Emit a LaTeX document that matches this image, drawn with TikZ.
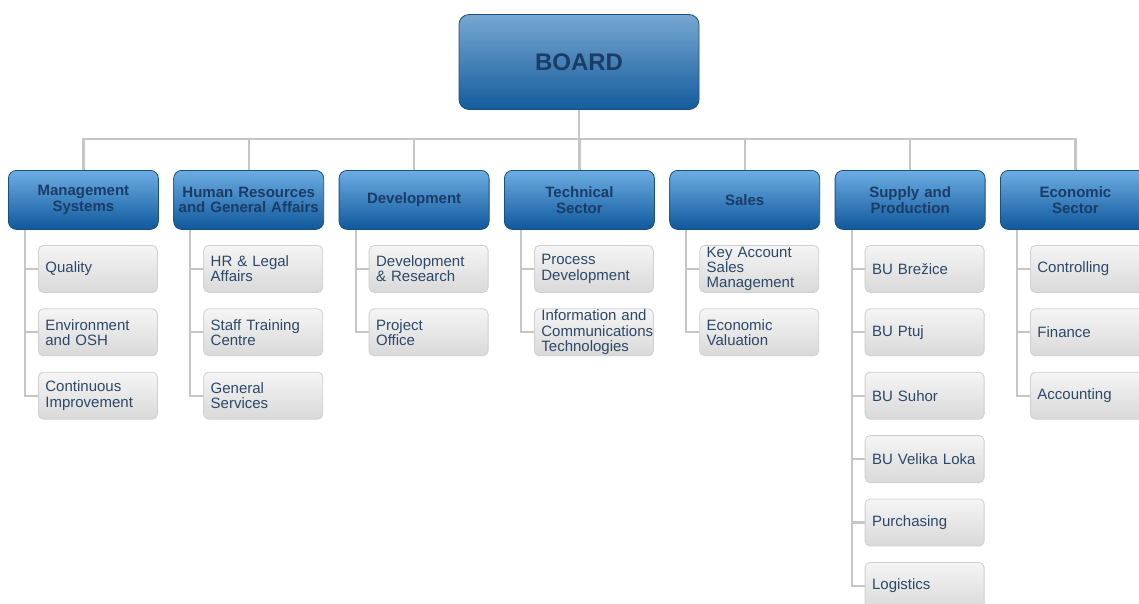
\documentclass[tikz,border=0pt]{standalone}
\usepackage{fontspec}
\setmainfont{Liberation Sans}
\usetikzlibrary{backgrounds}
\definecolor{boardtop}{HTML}{78A7D1}
\definecolor{boardmid}{HTML}{3F80BD}
\definecolor{boardbot}{HTML}{135C9C}
\definecolor{depttop}{HTML}{6CADE3}
\definecolor{deptmid}{HTML}{3483CB}
\definecolor{deptbot}{HTML}{10589C}
\definecolor{boxedge}{HTML}{1B4F80}
\definecolor{unittop}{HTML}{F5F5F5}
\definecolor{unitbot}{HTML}{D9D9D9}
\definecolor{unitedge}{HTML}{CFCFCF}
\definecolor{headtext}{HTML}{1A3C66}
\definecolor{unittext}{HTML}{2C4868}
\definecolor{linkgray}{HTML}{C6C6C6}
\begin{document}
\begin{tikzpicture}[x=1pt,y=-1pt,
  boardbox/.style={draw=boxedge, line width=0.8pt, rounded corners=10pt,
    top color=boardtop, middle color=boardmid, bottom color=boardbot,
    minimum width=240pt, minimum height=95pt, inner sep=0pt,
    text=headtext, font=\fontsize{24}{28}\selectfont\bfseries},
  deptbox/.style={draw=boxedge, line width=0.8pt, rounded corners=8pt,
    top color=depttop, middle color=deptmid, bottom color=deptbot,
    text width=146pt, inner xsep=2pt, inner ysep=0pt, minimum height=59pt,
    align=center, anchor=north west, text=headtext,
    font=\fontsize{15}{15.5}\selectfont\bfseries},
  unitbox/.style={draw=unitedge, line width=0.8pt, rounded corners=5pt,
    top color=unittop, bottom color=unitbot,
    text width=105pt, inner xsep=7pt, inner ysep=0pt, minimum height=47pt,
    align=left, anchor=north west, text=unittext,
    font=\fontsize{15}{15.3}\selectfont},
  link/.style={draw=linkgray, line width=2.2pt}]
\useasboundingbox (0,0) rectangle (1139,603);

% top level
\node[boardbox] (board) at (579,62) {BOARD\hspace{14pt}};
\coordinate (bus) at (579,139);

% sectors
\node[deptbox] (ms) at (8,170)     {Management\\Systems};
\node[deptbox] (hr) at (173.3,170) {Human Resources\\and General Affairs};
\node[deptbox] (dv) at (338.7,170) {Development};
\node[deptbox] (ts) at (504,170)   {Technical\\Sector};
\node[deptbox] (sa) at (669.3,170) {Sales};
\node[deptbox] (sp) at (834.7,170) {Supply and\\Production};
\node[deptbox] (ec) at (1000,170)  {Economic\\Sector};

% Management Systems
\node[unitbox] (ms1) at (38,245)   {Quality};
\node[unitbox] (ms2) at (38,308.4) {Environment\\and OSH};
\node[unitbox] (ms3) at (38,371.8) {Continuous\\Improvement};
% Human Resources
\node[unitbox] (hr1) at (203.3,245)   {HR \& Legal\\Affairs};
\node[unitbox] (hr2) at (203.3,308.4) {Staff Training\\Centre};
\node[unitbox] (hr3) at (203.3,371.8) {General\\Services};
% Development
\node[unitbox] (dv1) at (368.7,245)   {Development\\\& Research};
\node[unitbox] (dv2) at (368.7,308.4) {Project\\Office};
% Technical Sector
\node[unitbox] (ts1) at (534,245)   {Process\\Development};
\node[unitbox] (ts2) at (534,308.4) {\mbox{Information and}\\\mbox{Communications}\\Technologies};
% Sales
\node[unitbox] (sa1) at (699.3,245)   {Key Account\\Sales\\Management};
\node[unitbox] (sa2) at (699.3,308.4) {Economic\\Valuation};
% Supply and Production
\node[unitbox] (sp1) at (864.7,245)   {BU Brežice};
\node[unitbox] (sp2) at (864.7,308.4) {BU Ptuj};
\node[unitbox] (sp3) at (864.7,371.8) {BU Suhor};
\node[unitbox] (sp4) at (864.7,435.2) {\mbox{BU Velika Loka}};
\node[unitbox] (sp5) at (864.7,498.6) {Purchasing};
\node[unitbox] (sp6) at (864.7,562)   {Logistics};
% Economic Sector
\node[unitbox] (ec1) at (1030,245)   {Controlling};
\node[unitbox] (ec2) at (1030,308.4) {Finance};
\node[unitbox] (ec3) at (1030,371.8) {Accounting};

% connectors
\begin{scope}[on background layer]
  \draw[link] (board.south) -- (bus);
  \foreach \d in {ms,hr,dv,ts,sa,sp,ec}
    \draw[link] (\d.north) |- (bus);
  \foreach \d/\n in {ms/3,hr/3,dv/2,ts/2,sa/2,sp/6,ec/3}
    \foreach \i in {1,...,\n}
      \draw[link] ([xshift=17pt]\d.south west) |- (\d\i.west);
\end{scope}
\end{tikzpicture}
\end{document}
